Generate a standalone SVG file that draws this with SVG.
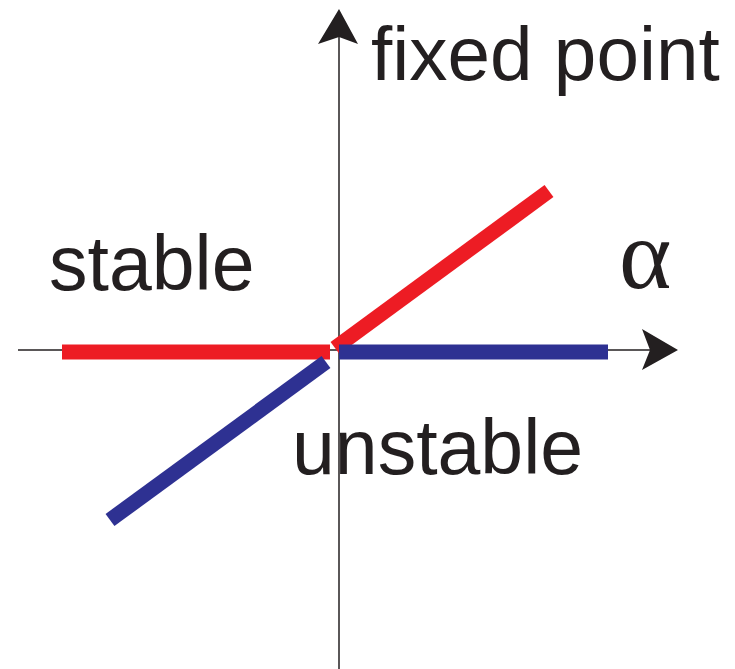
<svg xmlns="http://www.w3.org/2000/svg" width="735" height="669" viewBox="0 0 735 669">
<style>
.axis{stroke:#231F20;stroke-width:1.5;fill:none}
.head{fill:#231F20}
.red{stroke:#ED1C24;stroke-width:15;fill:none}
.blue{stroke:#2E3192;stroke-width:15;fill:none}
.lbl{font-family:"Liberation Sans",Arial,sans-serif;fill:#231F20}
.greek{font-family:"Liberation Serif","Times New Roman",serif;fill:#231F20}
</style>
<rect width="735" height="669" fill="#fff"/>
<g id="connectors">
<line class="axis" x1="18" y1="350" x2="660" y2="350"/>
<polygon class="head" points="678,350 642,329 650,350 642,370"/>
<line class="axis" x1="339" y1="669" x2="339" y2="30"/>
<polygon class="head" points="339,9 318,44 339,37 358,44"/>
</g>
<g id="stable-branch">
<line class="red" x1="62" y1="352" x2="330" y2="352"/>
<line class="red" x1="335" y1="348" x2="549" y2="191"/>
</g>
<g id="unstable-branch">
<line class="blue" x1="339" y1="352" x2="608" y2="352"/>
<line class="blue" x1="110" y1="520" x2="326" y2="362"/>
</g>
<g id="labels">
<text class="lbl" x="371" y="80" font-size="76.5">fixed point</text>
<text class="lbl" x="49" y="290" font-size="77">stable</text>
<text class="lbl" x="292" y="474" font-size="77">unstable</text>
<text class="greek" x="619" y="288" font-size="100">α</text>
</g>
</svg>
